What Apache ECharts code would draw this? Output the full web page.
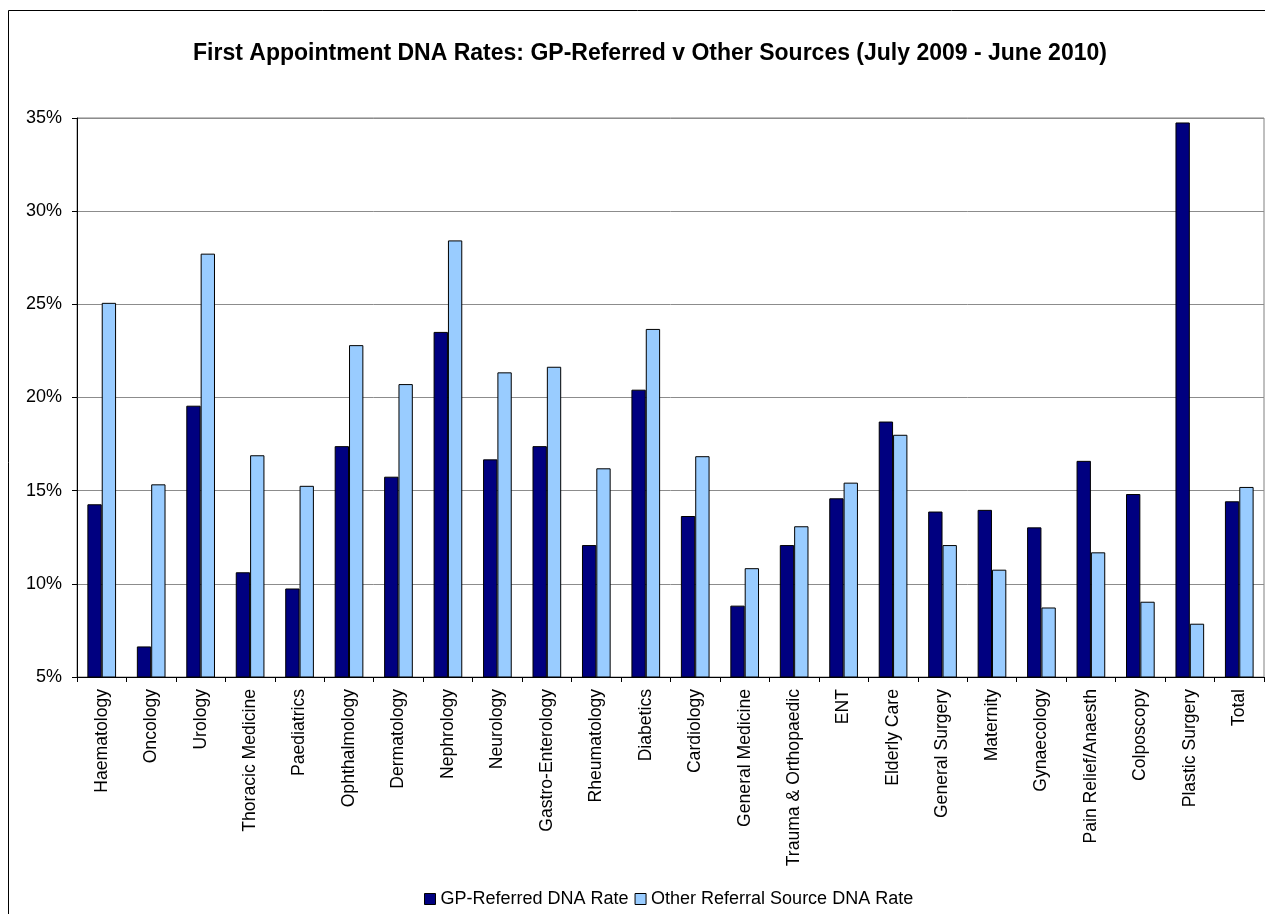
<!DOCTYPE html>
<html>
<head>
<meta charset="utf-8">
<script src="https://cdn.jsdelivr.net/npm/echarts@6/dist/echarts.min.js"></script>
<style>
html,body{margin:0;padding:0;background:#fff;}
#c{width:1265px;height:914px;}
</style>
</head>
<body>
<div id="c"></div>
<script>
var categories = ["Haematology","Oncology","Urology","Thoracic Medicine","Paediatrics","Ophthalmology","Dermatology","Nephrology","Neurology","Gastro-Enterology","Rheumatology","Diabetics","Cardiology","General Medicine","Trauma & Orthopaedic","ENT","Elderly Care","General Surgery","Maternity","Gynaecology","Pain Relief/Anaesth","Colposcopy","Plastic Surgery","Total"];
var gpRate = [14.27,6.64,19.56,10.62,9.75,17.39,15.75,23.52,16.68,17.39,12.08,20.42,13.64,8.83,12.08,14.59,18.71,13.88,13.97,13.03,16.6,14.82,34.76,14.43];
var otherRate = [25.08,15.34,27.72,16.9,15.26,22.81,20.72,28.43,21.35,21.65,16.2,23.68,16.85,10.84,13.09,15.43,18.0,12.08,10.76,8.73,11.69,9.04,7.86,15.2];
var seriesNames = ["GP-Referred DNA Rate","Other Referral Source DNA Rate"];
var titleText = "First Appointment DNA Rates: GP-Referred v Other Sources (July 2009 - June 2010)";

var chart = echarts.init(document.getElementById('c'));
var font = "Liberation Sans, Arial, sans-serif";
chart.setOption({
  animation: false,
  backgroundColor: '#fff',
  textStyle: {fontFamily: font},
  title: {
    text: titleText,
    left: 645,
    textAlign: 'center',
    top: 37,
    textStyle: {fontFamily: font, fontSize: 23, fontWeight: 'bold', color: '#000'}
  },
  graphic: [{
    type: 'rect',
    shape: {x: 8.5, y: 10.5, width: 1400, height: 1000},
    style: {fill: 'none', stroke: '#000', lineWidth: 1},
    silent: true,
    z: -1
  }],
  legend: {
    data: seriesNames,
    left: 419,
    top: 885,
    icon: 'rect',
    itemWidth: 11,
    itemHeight: 11,
    itemGap: 6,
    textStyle: {fontFamily: font, fontSize: 18, color: '#000'},
    itemStyle: {borderColor: '#000', borderWidth: 1}
  },
  grid: {
    left: 77, top: 118, right: 1, height: 559,
    show: true, borderColor: '#808080', borderWidth: 1,
    containLabel: false
  },
  xAxis: {
    type: 'category',
    data: categories,
    axisLine: {lineStyle: {color: '#000', width: 1}},
    axisTick: {show: true, length: 5, lineStyle: {color: '#000'}},
    axisLabel: {
      rotate: 90, interval: 0, margin: 12,
      fontFamily: font, fontSize: 17.6, color: '#000'
    }
  },
  yAxis: {
    type: 'value',
    min: 5, max: 35, interval: 5,
    axisLine: {show: true, lineStyle: {color: '#000', width: 1}},
    axisTick: {show: true, length: 5, lineStyle: {color: '#000'}},
    axisLabel: {formatter: '{value}%', margin: 15, fontFamily: font, fontSize: 18, color: '#000'},
    splitLine: {show: true, lineStyle: {color: '#8c8c8c', width: 1}}
  },
  series: [{
    name: seriesNames[0],
    type: 'bar',
    data: gpRate,
    barGap: '0%',
    barCategoryGap: '42%',
    itemStyle: {color: '#000080', borderColor: '#000', borderWidth: 1}
  },{
    name: seriesNames[1],
    type: 'bar',
    data: otherRate,
    barGap: '0%',
    barCategoryGap: '42%',
    itemStyle: {color: '#99CCFF', borderColor: '#000', borderWidth: 1}
  }]
});
</script>
</body>
</html>
